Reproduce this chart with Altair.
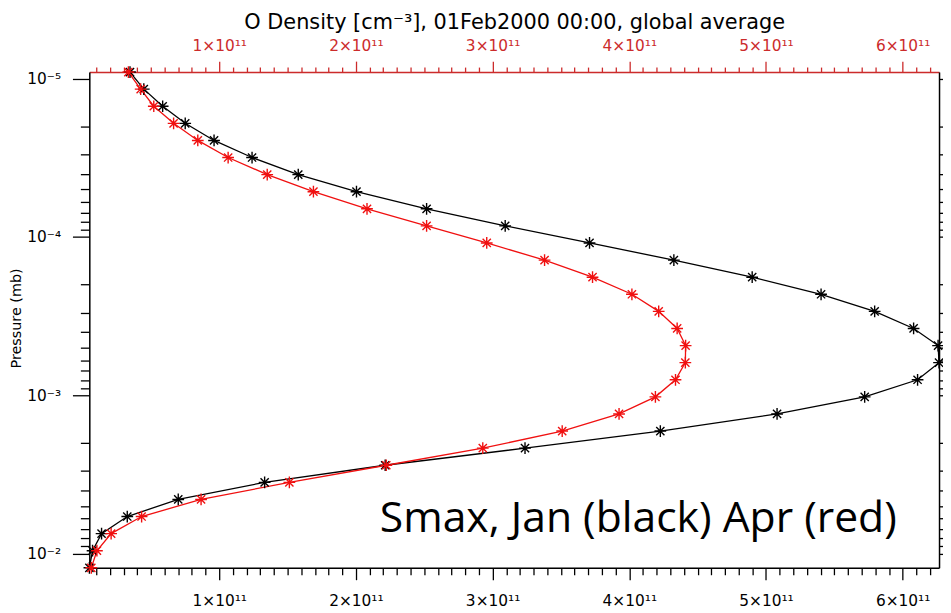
import altair as alt
import pandas as pd

# Pressure levels (mb), top of plot to bottom
pressure = [9.078e-6, 1.164e-5, 1.493e-5, 1.914e-5, 2.455e-5, 3.148e-5, 4.036e-5,
            5.176e-5, 6.637e-5, 8.511e-5, 1.091e-4, 1.400e-4, 1.795e-4, 2.301e-4,
            2.951e-4, 3.784e-4, 4.853e-4, 6.223e-4, 7.980e-4, 1.023e-3, 1.312e-3,
            1.683e-3, 2.158e-3, 2.767e-3, 3.548e-3, 4.550e-3, 5.834e-3, 7.482e-3,
            9.594e-3, 1.230e-2]

# O density, units of 1e11 cm^-3
jan = [0.347, 0.448, 0.586, 0.751, 0.962, 1.240, 1.578, 2.004, 2.517, 3.092,
       3.709, 4.326, 4.899, 5.403, 5.795, 6.080, 6.259, 6.266, 6.109, 5.722,
       5.081, 4.227, 3.237, 2.214, 1.332, 0.700, 0.327, 0.139, 0.073, 0.050]
apr = [0.335, 0.425, 0.521, 0.666, 0.843, 1.065, 1.351, 1.689, 2.081, 2.517,
       2.957, 3.380, 3.731, 4.019, 4.215, 4.350, 4.412, 4.410, 4.338, 4.191,
       3.925, 3.509, 2.928, 2.222, 1.513, 0.867, 0.432, 0.209, 0.105, 0.064]

title_text = "O Density [cm⁻³], 01Feb2000 00:00, global average"
note_text = "Smax, Jan (black) Apr (red)"

rows = []
for i, (p, a, b) in enumerate(zip(pressure, jan, apr)):
    rows.append({"level": i, "pressure": p, "density": a * 1e11, "series": "Jan"})
    rows.append({"level": i, "pressure": p, "density": b * 1e11, "series": "Apr"})
df = pd.DataFrame(rows)
df_jan = df[df.series == "Jan"]
df_apr = df[df.series == "Apr"]

XDOM = [0.0493e11, 6.266e11]
YDOM = [9.078e-6, 1.230e-2]
x_ticks = [k * 1e10 for k in range(1, 63)]
y_ticks = [m * 10.0 ** e for e in range(-5, -1) for m in range(1, 10)
           if YDOM[0] <= m * 10.0 ** e <= YDOM[1]]

RED_AX = "#cc2b2b"
RED = "#f01010"
FONT = "DejaVu Sans"

x_scale = alt.Scale(domain=XDOM, nice=False, zero=False)
y_scale = alt.Scale(type="log", domain=YDOM, reverse=True, nice=False)

xmaj = "datum.value % 1e11 === 0"
xlab = "datum.value % 1e11 === 0 ? (datum.value / 1e11) + '×10¹¹' : ''"
E = "round(log(datum.value)/LN10)"
ymaj = "abs(log(datum.value)/LN10 - " + E + ") < 1e-6"
ylab = (ymaj + " ? ('10' + (" + E + " == -5 ? '⁻⁵' : " + E + " == -4 ? '⁻⁴' : "
        + E + " == -3 ? '⁻³' : '⁻²')) : ''")

x_bottom = alt.Axis(orient="bottom", values=x_ticks, labelExpr=xlab,
                    tickSize={"condition": {"test": xmaj, "value": 12}, "value": 7},
                    tickColor="black", domainColor="black", labelColor="black",
                    labelFont=FONT, labelFontSize=15.5, labelPadding=14,
                    labelOverlap=False, labelFlush=False, labelBound=False,
                    domainWidth=1.5, tickWidth=1.3, grid=False, title=None)
x_top = alt.Axis(orient="top", values=x_ticks, labelExpr=xlab,
                 tickSize={"condition": {"test": xmaj, "value": 11}, "value": 5},
                 tickColor=RED_AX, domainColor=RED_AX, labelColor=RED_AX,
                 labelFont=FONT, labelFontSize=15.5, labelPadding=8,
                 labelOverlap=False, labelFlush=False, labelBound=False,
                 domainWidth=1.5, tickWidth=1.3, grid=False, title=None)
y_left = alt.Axis(orient="left", values=y_ticks, labelExpr=ylab,
                  tickSize={"condition": {"test": ymaj, "value": 17}, "value": 9},
                  tickColor="black", domainColor="black", labelColor="black",
                  labelFont=FONT, labelFontSize=15.5, labelPadding=12,
                  labelOverlap=False, labelFlush=False, labelBound=False,
                  domainWidth=1.5, tickWidth=1.3, grid=False,
                  title="Pressure (mb)", titleFont=FONT, titleFontSize=14.5,
                  titleFontWeight="normal", titleColor="black",
                  titleX=-73, titleY=248, titleAngle=270,
                  titleAlign="center", titleBaseline="middle")
y_right = alt.Axis(orient="right", values=y_ticks, labels=False,
                   tickSize={"condition": {"test": ymaj, "value": 9}, "value": 5},
                   tickColor="black", domainColor="black",
                   domainWidth=1.5, tickWidth=1.3, grid=False, title=None)

star = "M-1,0L1,0M0,-1L0,1M-0.7,-0.7L0.7,0.7M-0.7,0.7L0.7,-0.7"

line_jan = alt.Chart(df_jan).mark_line(color="black", strokeWidth=1.3).encode(
    x=alt.X("density:Q", scale=x_scale, axis=x_bottom),
    y=alt.Y("pressure:Q", scale=y_scale, axis=y_left),
    order=alt.Order("level:Q"))
line_apr = alt.Chart(df_apr).mark_line(color=RED, strokeWidth=1.3).encode(
    x=alt.X("density:Q", scale=x_scale, axis=x_top),
    y=alt.Y("pressure:Q", scale=y_scale, axis=y_right),
    order=alt.Order("level:Q"))
pts_jan = alt.Chart(df_jan).mark_point(shape=star, size=140, filled=False,
                                        color="black", strokeWidth=1.4, opacity=1).encode(
    x=alt.X("density:Q", scale=x_scale, axis=None),
    y=alt.Y("pressure:Q", scale=y_scale, axis=None))
pts_apr = alt.Chart(df_apr).mark_point(shape=star, size=140, filled=False,
                                        color=RED, strokeWidth=1.4, opacity=1).encode(
    x=alt.X("density:Q", scale=x_scale, axis=None),
    y=alt.Y("pressure:Q", scale=y_scale, axis=None))
note = alt.Chart(pd.DataFrame({"t": [note_text]})).mark_text(
    align="left", baseline="alphabetic", font="Open Sans", fontSize=43,
    color="black").encode(text="t:N", x=alt.value(293), y=alt.value(464))
title = alt.Chart(pd.DataFrame({"t": [title_text]})).mark_text(
    align="center", baseline="alphabetic", font=FONT, fontSize=21,
    color="black").encode(text="t:N", x=alt.value(429), y=alt.value(-43))

chart = alt.layer(line_jan, line_apr, pts_jan, pts_apr, note, title).resolve_axis(
    x="independent", y="independent"
).properties(
    width=857, height=500,
    autosize=alt.AutoSizeParams(type="none"),
    padding={"left": 82, "top": 62, "right": 4, "bottom": 43},
).configure_view(stroke=None).configure(background="white")

chart.save("out.html", embed_options={"renderer": "svg", "actions": False})
